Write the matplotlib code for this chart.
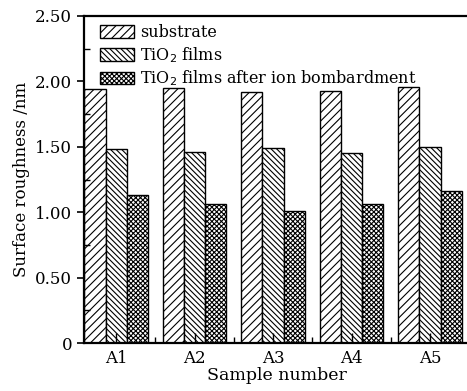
import matplotlib
matplotlib.use("Agg")
import matplotlib.pyplot as plt
import numpy as np
from matplotlib.ticker import MultipleLocator

samples = ["A1", "A2", "A3", "A4", "A5"]
substrate = [1.94, 1.95, 1.92, 1.93, 1.96]
tio2_films = [1.48, 1.46, 1.49, 1.45, 1.50]
tio2_ion = [1.13, 1.06, 1.01, 1.06, 1.16]

plt.rcParams["font.family"] = ["DejaVu Serif"]
plt.rcParams["hatch.linewidth"] = 0.8

fig = plt.figure(figsize=(4.67, 3.91), dpi=100)
ax = fig.add_axes([84 / 467, 48 / 391, 386 / 467, 327 / 391])

x = np.arange(1, len(samples) + 1)
w = 0.27
ax.bar(x - w, substrate, w, color="white", edgecolor="black", hatch="////", lw=1.0, label="substrate")
ax.bar(x, tio2_films, w, color="white", edgecolor="black", hatch="\\\\\\\\\\\\", lw=1.0, label="TiO$_2$ films")
ax.bar(x + w, tio2_ion, w, color="white", edgecolor="black", hatch="xxxxxxx", lw=1.0,
       label="TiO$_2$ films after ion bombardment")

ax.set_xlim(0.59, 5.51)
ax.set_ylim(0, 2.5)
ax.set_xticks(x)
ax.set_xticklabels(samples)
ax.xaxis.set_minor_locator(MultipleLocator(1.0, offset=0.5))
ax.set_yticks([0, 0.5, 1.0, 1.5, 2.0, 2.5])
ax.set_yticklabels(["0", "0.50", "1.00", "1.50", "2.00", "2.50"])
ax.yaxis.set_minor_locator(MultipleLocator(0.25))
ax.tick_params(axis="y", which="major", labelsize=12, direction="out", length=5, width=1.2)
ax.tick_params(axis="y", which="minor", direction="in", length=4, width=1.0)
ax.tick_params(axis="x", which="major", labelsize=12, direction="in", length=7, width=1.0, pad=5)
ax.tick_params(axis="x", which="minor", direction="in", length=4, width=1.0)
ax.spines["right"].set_visible(False)
for s in ("left", "bottom", "top"):
    ax.spines[s].set_linewidth(1.6)

ax.set_xlabel("Sample number", fontsize=12.5, labelpad=0)
ax.set_ylabel("Surface roughness /nm", fontsize=12, labelpad=4)

ax.legend(loc="upper left", bbox_to_anchor=(8 / 386, 1.0), frameon=False, fontsize=11.5,
          handlelength=2.1, handleheight=0.8, labelspacing=0.25, handletextpad=0.4,
          borderaxespad=0.2, borderpad=0.3)

fig.savefig("out.png", dpi=100)
